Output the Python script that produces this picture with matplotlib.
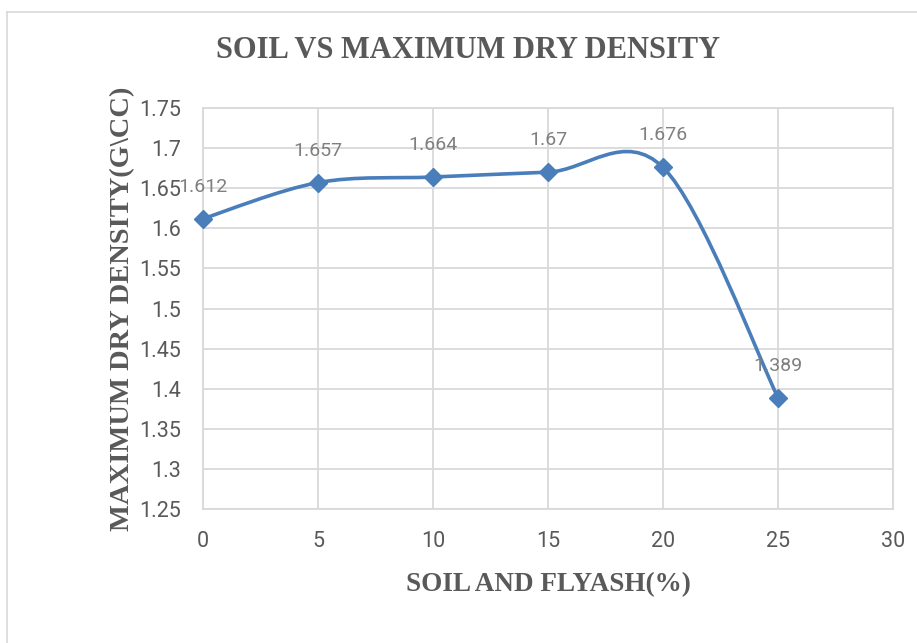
import numpy as np
import matplotlib.pyplot as plt
from matplotlib.path import Path
from matplotlib.patches import PathPatch
from matplotlib.lines import Line2D

# data
flyash = [0, 5, 10, 15, 20, 25]
mdd = [1.612, 1.657, 1.664, 1.67, 1.676, 1.389]
labels = ['1.612', '1.657', '1.664', '1.67', '1.676', '1.389']
xticks = [0, 5, 10, 15, 20, 25, 30]
yticks = [1.25, 1.3, 1.35, 1.4, 1.45, 1.5, 1.55, 1.6, 1.65, 1.7, 1.75]

blue = '#4a7ebb'
grid_c = '#d9d9d9'
txt_c = '#595959'

fig = plt.figure(figsize=(9.17, 6.43), dpi=100)
ax = fig.add_axes([0.2214, 0.2084, 0.7524, 0.6236])

# smoothed line (excel-like bezier through the points)
x = np.array(flyash, dtype=float)
y = np.array(mdd)
n = len(x)
verts = [(x[0], y[0])]
codes = [Path.MOVETO]
for i in range(n - 1):
    p0 = (x[max(i - 1, 0)], y[max(i - 1, 0)])
    p1 = (x[i], y[i])
    p2 = (x[i + 1], y[i + 1])
    p3 = (x[min(i + 2, n - 1)], y[min(i + 2, n - 1)])
    c1 = (p1[0] + (p2[0] - p0[0]) / 6, p1[1] + (p2[1] - p0[1]) / 6)
    c2 = (p2[0] - (p3[0] - p1[0]) / 6, p2[1] - (p3[1] - p1[1]) / 6)
    verts += [c1, c2, p2]
    codes += [Path.CURVE4] * 3
ax.add_patch(PathPatch(Path(verts, codes), facecolor='none', edgecolor=blue,
                       lw=2.6, capstyle='round', zorder=3))
ax.plot(flyash, mdd, linestyle='none', marker='D', markersize=9,
        color=blue, zorder=4, clip_on=False)

for xi, yi, lab in zip(flyash, mdd, labels):
    ax.annotate(lab, (xi, yi), xytext=(0, 23), textcoords='offset points',
                ha='center', va='center', fontsize=14, color='#7f7f7f',
                family='Roboto', zorder=5)

ax.set_xlim(0, 30)
ax.set_ylim(1.25, 1.75)
ax.set_xticks(xticks)
ax.set_yticks(yticks)
ax.set_xticklabels([str(t) for t in xticks])
ax.set_yticklabels(['%g' % t for t in yticks])
ax.grid(True, color=grid_c, lw=1.3)
ax.set_axisbelow(True)
for s in ax.spines.values():
    s.set_color(grid_c)
    s.set_linewidth(1.3)
ax.tick_params(length=0, labelsize=15.5, labelcolor=txt_c)
ax.tick_params(axis='y', pad=16)
ax.tick_params(axis='x', pad=16)
for t in ax.get_xticklabels() + ax.get_yticklabels():
    t.set_family('Roboto')

ax.set_xlabel('SOIL AND FLYASH(%)', family='Liberation Serif', weight='bold',
              fontsize=19.5, color=txt_c, labelpad=14)
ax.set_ylabel('MAXIMUM DRY DENSITY(G\\CC)', family='Liberation Serif', weight='bold',
              fontsize=20.5, color=txt_c, labelpad=3)
fig.text(0.510, 0.922, 'SOIL VS MAXIMUM DRY DENSITY', ha='center', va='center',
         family='Liberation Serif', weight='bold', fontsize=22, color=txt_c)

# chart border
fig.add_artist(Line2D([0.008, 0.008], [0, 0.981], color=grid_c, lw=1.2))
fig.add_artist(Line2D([0.008, 1], [0.981, 0.981], color=grid_c, lw=1.2))

plt.savefig('out.png', dpi=100)
